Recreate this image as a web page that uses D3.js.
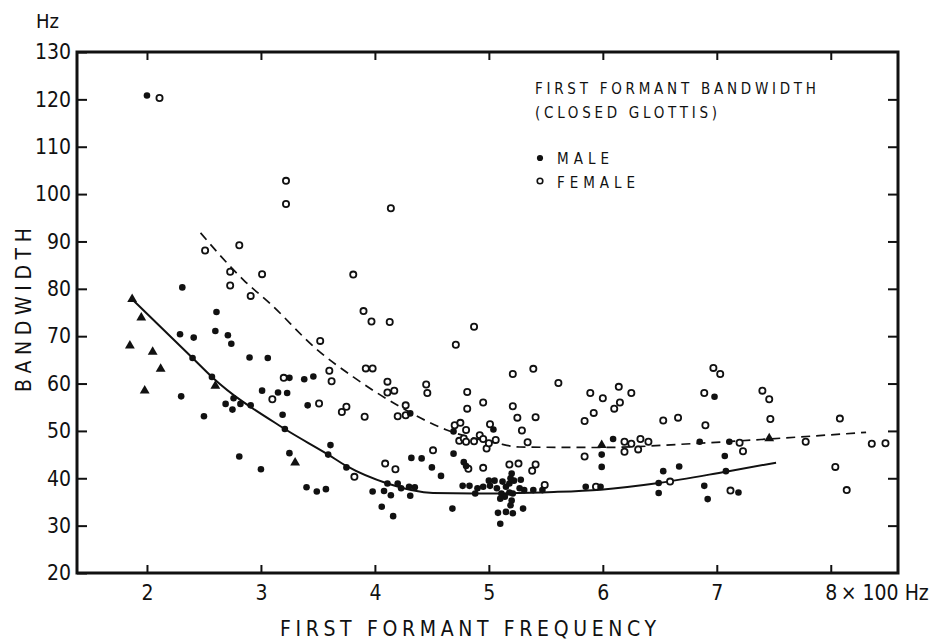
<!DOCTYPE html>
<html>
<head>
<meta charset="utf-8">
<script src="https://cdn.jsdelivr.net/npm/d3@7"></script>
<style>
  html, body { margin: 0; padding: 0; background: #fff; }
  svg { display: block; }
  text { font-family: "DejaVu Sans Condensed", "DejaVu Sans", sans-serif; font-stretch: condensed; fill: #111; }
</style>
</head>
<body>
<svg id="chart" width="942" height="642"></svg>
<script>
// First formant frequency (x 100 Hz) vs. bandwidth (Hz), closed glottis
const xTicks = [2, 3, 4, 5, 6, 7, 8];
const yTicks = [20, 30, 40, 50, 60, 70, 80, 90, 100, 110, 120, 130];

// male speakers (filled dots)
const male = [
  [2.00,120.8],
  [2.31,80.3],[2.61,75.1],[2.29,70.4],[2.41,69.7],[2.60,71.1],[2.71,70.2],[2.74,68.4],[2.40,65.4],
  [2.90,65.5],[3.06,65.4],[2.57,61.4],[2.30,57.3],[2.50,53.1],[2.76,56.9],[2.69,55.7],[2.75,54.5],
  [2.82,55.7],[2.91,55.4],[3.01,58.5],[3.15,58.1],[3.23,58.0],[3.25,61.2],[3.38,60.9],[3.46,61.5],
  [3.41,55.4],[3.19,53.4],[3.21,50.4],[2.81,44.6],[3.00,41.9],[3.25,45.3],[3.40,38.1],[3.49,37.2],
  [3.57,37.7],[3.59,45.0],[3.61,47.0],[3.75,42.3],[4.31,53.7],[4.32,44.3],[4.41,44.2],[4.50,42.3],
  [4.58,40.5],[4.69,45.2],[4.78,43.4],[4.80,42.6],[3.98,37.2],[4.08,37.3],[4.14,36.4],[4.11,38.9],
  [4.20,38.9],[4.23,37.9],[4.30,38.2],[4.35,38.1],[4.31,36.3],[4.06,34.0],[4.16,32.0],[4.68,33.6],
  [4.69,49.9],[5.04,50.3],
  [4.77,38.4],[4.83,38.4],[4.88,36.8],[4.90,37.9],[4.95,38.2],[5.01,38.4],[5.07,37.9],[5.11,36.8],
  [5.14,36.1],[5.15,38.2],[5.18,38.9],[5.20,41.0],[5.21,36.8],[5.27,37.9],[5.28,39.7],[5.31,37.5],
  [5.39,37.5],[5.47,37.5],[5.08,32.7],[5.15,32.9],[5.21,32.6],[5.30,33.6],[5.10,30.4],[5.20,35.3],
  [5.10,35.7],[5.00,39.5],[5.05,39.5],[5.12,39.3],[5.18,37.0],[5.22,39.5],[5.19,40.0],[5.19,34.3],
  [5.85,38.2],[5.98,38.2],
  [6.98,57.2],[6.09,48.3],[5.99,45.0],[5.99,42.4],[6.85,47.7],[7.11,47.7],[7.07,44.7],[7.08,41.5],
  [6.53,41.5],[6.67,42.5],[6.49,39.0],[6.49,36.9],[6.89,38.4],[6.92,35.6],[7.19,37.0]
];

// filled triangles
const triangles = [
  [1.87,77.8],[1.95,73.9],[1.85,68.0],[2.05,66.7],[2.12,63.1],[1.98,58.5],[2.60,59.5],[3.30,43.3],
  [5.99,47.0],[7.46,48.4]
];

// female speakers (open dots)
const female = [
  [2.11,120.3],[3.22,102.8],[3.22,97.9],[2.51,88.1],[2.81,89.2],[2.73,83.6],[3.01,83.1],[2.73,80.7],
  [2.91,78.5],[3.20,61.2],[3.10,56.7],[3.51,55.8],[3.52,69.0],[3.60,62.7],[3.62,60.5],
  [3.81,83.0],[3.90,75.3],[3.97,73.1],[4.13,73.0],[4.87,72.0],[4.71,68.2],[3.92,63.2],[3.98,63.2],
  [4.11,60.4],[4.11,58.1],[4.17,58.5],[4.27,55.4],[4.20,53.1],[4.27,53.3],[3.71,54.0],[3.75,55.1],
  [3.91,53.0],[4.45,59.8],[4.46,58.0],[4.81,58.2],[4.95,56.0],[4.81,54.7],[5.21,62.0],[5.39,63.1],
  [5.61,60.1],[5.21,55.2],[5.25,52.8],[5.41,52.9],[5.29,50.1],[5.34,47.6],[5.89,58.0],[5.92,53.8],
  [5.84,52.1],[5.84,44.6],
  [4.70,51.2],[4.75,51.7],[4.80,50.2],[4.74,47.9],[4.78,48.4],[4.80,47.7],[4.87,47.8],[4.92,49.1],
  [4.95,48.3],[4.98,46.3],[5.01,51.4],[5.06,48.1],[5.00,47.4],
  [4.09,43.1],[4.18,41.9],[3.82,40.3],[4.51,45.9],[4.82,42.0],[4.95,42.2],[5.18,42.9],[5.26,43.1],
  [5.38,41.6],[5.41,42.9],[5.49,38.6],[5.94,38.2],
  [4.14,97.0],
  [6.97,63.3],[7.03,62.0],[6.89,58.0],[7.40,58.5],[7.46,56.7],[7.47,52.5],[6.90,51.2],[6.14,59.3],
  [6.00,56.9],[6.25,58.0],[6.10,54.7],[6.15,56.0],[6.53,52.2],[6.66,52.8],[8.08,52.6],[6.19,47.7],
  [6.25,47.3],[6.19,45.6],[6.31,46.1],[6.33,48.3],[6.40,47.7],[7.23,45.7],[7.20,47.5],[7.78,47.7],
  [8.36,47.3],[8.48,47.4],[8.04,42.4],[8.14,37.5],[6.59,39.3],[7.12,37.4]
];

// fitted trend curves
const maleCurve = [
  [1.87,77.8],[2.40,65.4],[2.57,61.4],[3.21,50.4],[3.59,45.0],[3.75,42.6],[4.11,38.9],[4.51,36.9],
  [5.00,36.8],[5.57,37.1],[5.98,37.6],[6.49,39.0],[7.08,41.4],[7.52,43.3]
];
const femaleCurve = [
  [2.47,91.8],[2.85,81.8],[3.08,76.9],[3.50,67.0],[3.81,61.4],[4.22,55.1],[4.63,50.2],[5.07,47.4],
  [5.27,46.6],[5.98,46.5],[6.85,47.4],[7.46,48.3],[8.31,49.7]
];

const svg = d3.select("#chart");
const plotLeft = 77, plotRight = 898, plotTop = 52, plotBottom = 573;

const x = d3.scaleLinear().domain([1.386, 8.59]).range([plotLeft, plotRight]);
const y = d3.scaleLinear().domain([20, 130]).range([plotBottom, plotTop]);

// ticks on all four sides, pointing inward
const axisStyle = g => {
  g.select(".domain").remove();
  g.selectAll(".tick line").attr("stroke", "#111").attr("stroke-width", 2);
};

svg.append("g")
  .attr("transform", `translate(${plotLeft},0)`)
  .call(d3.axisLeft(y).tickValues(yTicks).tickSizeInner(-10).tickSizeOuter(0).tickPadding(6))
  .call(axisStyle)
  .call(g => g.selectAll(".tick text").attr("font-size", 21).attr("fill", "#111"));

svg.append("g")
  .attr("transform", `translate(${plotRight},0)`)
  .call(d3.axisRight(y).tickValues(yTicks.slice(1, -1)).tickSizeInner(-10).tickSizeOuter(0).tickFormat(""))
  .call(axisStyle);

svg.append("g")
  .attr("transform", `translate(0,${plotBottom})`)
  .call(d3.axisBottom(x).tickValues(xTicks).tickSizeInner(-8).tickSizeOuter(0).tickPadding(12))
  .call(axisStyle)
  .call(g => g.selectAll(".tick text").attr("font-size", 21).attr("fill", "#111"));

svg.append("g")
  .attr("transform", `translate(0,${plotTop})`)
  .call(d3.axisTop(x).tickValues(xTicks).tickSizeInner(-8).tickSizeOuter(0).tickFormat(""))
  .call(axisStyle);

// plot frame
svg.append("rect")
  .attr("x", plotLeft).attr("y", plotTop)
  .attr("width", plotRight - plotLeft).attr("height", plotBottom - plotTop)
  .attr("fill", "none").attr("stroke", "#111").attr("stroke-width", 3);

// units and axis titles
svg.append("text").attr("x", 36).attr("y", 28).attr("font-size", 20).text("Hz");
svg.append("text")
  .attr("x", x(8) + 10).attr("y", plotBottom + 27).attr("font-size", 21)
  .text("× 100 Hz");
svg.append("text")
  .attr("x", 280).attr("y", 636).attr("font-size", 21)
  .attr("textLength", 376).attr("lengthAdjust", "spacing")
  .text("FIRST FORMANT FREQUENCY");
svg.append("text")
  .attr("transform", "translate(31,392) rotate(-90)")
  .attr("font-size", 21)
  .attr("textLength", 164).attr("lengthAdjust", "spacing")
  .text("BANDWIDTH");

// trend curves
const line = d3.line().x(d => x(d[0])).y(d => y(d[1])).curve(d3.curveMonotoneX);
svg.append("path").datum(maleCurve).attr("d", line)
  .attr("fill", "none").attr("stroke", "#111").attr("stroke-width", 2);
svg.append("path").datum(femaleCurve).attr("d", line)
  .attr("fill", "none").attr("stroke", "#111").attr("stroke-width", 1.7)
  .attr("stroke-dasharray", "9,6");

// data points
svg.append("g").selectAll("circle").data(female).join("circle")
  .attr("cx", d => x(d[0])).attr("cy", d => y(d[1])).attr("r", 3.1)
  .attr("fill", "#fff").attr("stroke", "#111").attr("stroke-width", 1.8);
svg.append("g").selectAll("circle").data(male).join("circle")
  .attr("cx", d => x(d[0])).attr("cy", d => y(d[1])).attr("r", 3.3)
  .attr("fill", "#111");
svg.append("g").selectAll("path").data(triangles).join("path")
  .attr("transform", d => `translate(${x(d[0])},${y(d[1])})`)
  .attr("d", d3.symbol(d3.symbolTriangle, 42))
  .attr("fill", "#111");

// legend
const lg = svg.append("g");
lg.append("text").attr("x", 535).attr("y", 94).attr("font-size", 15)
  .attr("textLength", 281).attr("lengthAdjust", "spacing").text("FIRST FORMANT BANDWIDTH");
lg.append("text").attr("x", 535).attr("y", 118).attr("font-size", 15)
  .attr("textLength", 182).attr("lengthAdjust", "spacing").text("(CLOSED GLOTTIS)");
lg.append("circle").attr("cx", 540).attr("cy", 158).attr("r", 3.1).attr("fill", "#111");
lg.append("text").attr("x", 557).attr("y", 164).attr("font-size", 15)
  .attr("textLength", 52).attr("lengthAdjust", "spacing").text("MALE");
lg.append("circle").attr("cx", 540).attr("cy", 181).attr("r", 2.8)
  .attr("fill", "#fff").attr("stroke", "#111").attr("stroke-width", 1.6);
lg.append("text").attr("x", 557).attr("y", 188).attr("font-size", 15)
  .attr("textLength", 78).attr("lengthAdjust", "spacing").text("FEMALE");
</script>
</body>
</html>
